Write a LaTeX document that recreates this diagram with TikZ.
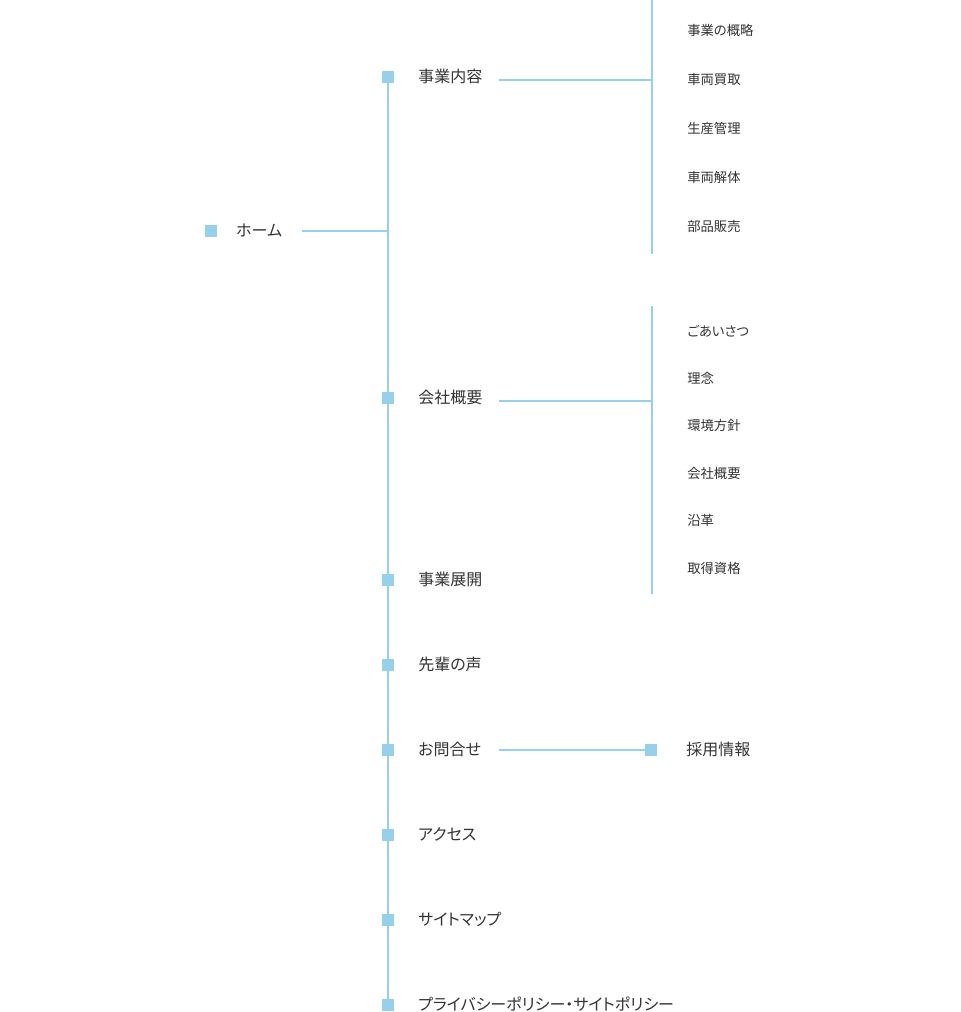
\documentclass[tikz,border=0pt]{standalone}
\usepackage{fontspec}
\setmainfont[RawFeature=+palt]{Noto Sans CJK JP}
\usetikzlibrary{positioning}
\definecolor{mapLine}{HTML}{96D0EB}
\definecolor{mapText}{HTML}{333333}

\begin{document}
\begin{tikzpicture}[x=0.75pt,y=-0.75pt,
    sqbox/.style={fill=mapLine,inner sep=0pt,minimum size=9pt},
    toplabel/.style={anchor=west,inner sep=0pt,text=mapText,
      font=\fontsize{12pt}{12pt}\selectfont,text height=0.88em,text depth=0.12em},
    sublabel/.style={anchor=west,inner sep=0pt,text=mapText,
      font=\fontsize{10pt}{10pt}\selectfont,text height=0.88em,text depth=0.12em},
    link/.style={draw=mapLine,line width=1.5pt}]
    \useasboundingbox (0,0) rectangle (960,1012);

    % home
    \node[sqbox] (homeSq) at (211,231) {};
    \node[toplabel] (home) at (236,231) {ホーム};
    \coordinate (homeOut) at (302,231);
    \coordinate (homeJoin) at (388,231);

    % main column
    \node[sqbox] (bizSq) at (388,77) {};
    \node[toplabel] (biz) at (418,77) {事業内容};
    \node[sqbox] (coSq) at (388,398) {};
    \node[toplabel] (co) at (418,398) {会社概要};
    \foreach \t [count=\i] in {事業展開,先輩の声,お問合せ,アクセス,サイトマップ,プライバシーポリシー・サイトポリシー}{
      \node[sqbox] (mainSq\i) at (388,{580+85*(\i-1)}) {};
      \node[toplabel] (main\i) at (418,{580+85*(\i-1)}) {\t};
    }

    % business branch
    \coordinate (bizOut) at (499,80);
    \coordinate (bizJoin) at (652,80);
    \coordinate (bizTop) at (652,0);
    \coordinate (bizBot) at (652,254);
    \foreach \t [count=\i] in {事業の概略,車両買取,生産管理,車両解体,部品販売}
      \node[sublabel] (bizSub\i) at (687,{30+49*(\i-1)}) {\t};

    % company branch
    \coordinate (coOut) at (499,401);
    \coordinate (coJoin) at (652,401);
    \coordinate (coTop) at (652,306);
    \coordinate (coBot) at (652,594);
    \foreach \t [count=\i] in {ごあいさつ,理念,環境方針,会社概要,沿革,取得資格}
      \node[sublabel] (coSub\i) at (687,{331+47.4*(\i-1)}) {\t};

    % recruit
    \coordinate (askOut) at (499,750);
    \node[sqbox] (recSq) at (651,750) {};
    \node[toplabel] (rec) at (686,750) {採用情報};

    % lines
    \draw[link] (bizSq) -- (mainSq6);
    \draw[link] (homeOut) -- (homeJoin);
    \draw[link] (bizOut) -- (bizJoin);
    \draw[link] (bizTop) -- (bizBot);
    \draw[link] (coOut) -- (coJoin);
    \draw[link] (coTop) -- (coBot);
    \draw[link] (askOut) -- (recSq);
  \end{tikzpicture}
\end{document}
